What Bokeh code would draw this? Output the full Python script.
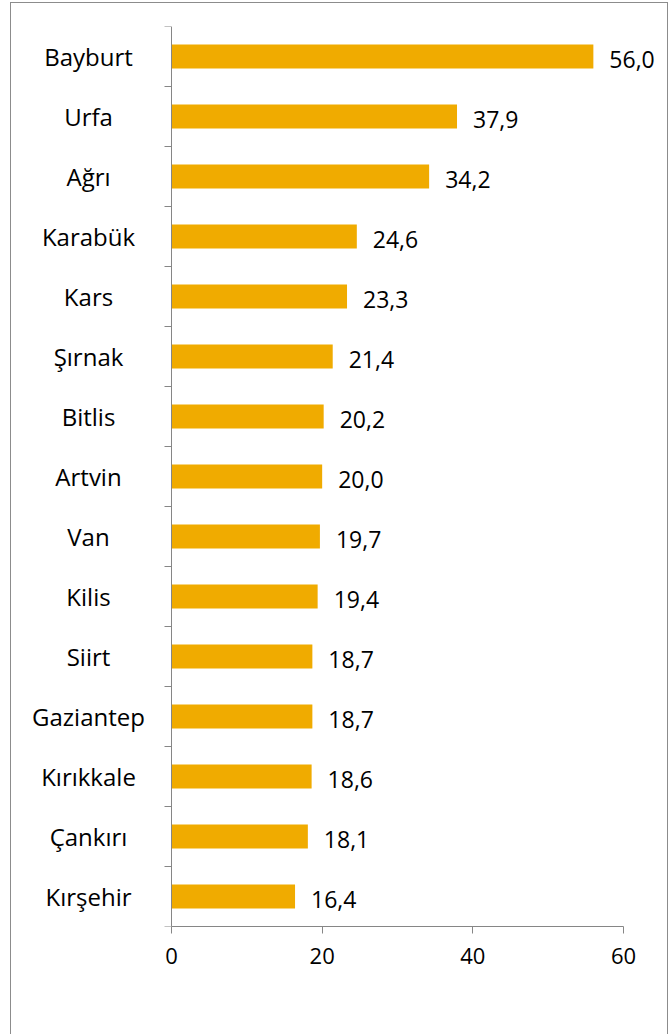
from bokeh.plotting import figure
from bokeh.models import Range1d, FixedTicker, ColumnDataSource, LabelSet
from bokeh.core.properties import value
from bokeh.embed import file_html
from bokeh.resources import INLINE

provinces = ["Bayburt", "Urfa", "Ağrı", "Karabük", "Kars", "Şırnak", "Bitlis", "Artvin",
             "Van", "Kilis", "Siirt", "Gaziantep", "Kırıkkale", "Çankırı", "Kırşehir"]
rates = [56.0, 37.9, 34.2, 24.6, 23.3, 21.4, 20.2, 20.0, 19.7, 19.4, 18.7, 18.7, 18.6, 18.1, 16.4]
x_ticks = [0, 20, 40, 60]

FONT = "Open Sans"
BAR = "#F0AB00"
AXIS = "#868686"

# layout in pixels (page coordinates)
FIG_LEFT, FRAME_LEFT, ZERO_X, SIXTY_X, FRAME_RIGHT = 11, 20, 171, 623, 660
PX_PER_UNIT = (SIXTY_X - ZERO_X) / 60
CAT_CENTER_X = 88

n = len(provinces)
centers = [i + 0.5 for i in range(n)]
labels = [f"{v:.1f}".replace(".", ",") for v in rates]
src = ColumnDataSource(dict(y=centers, v=rates, lab=labels, name=provinces, zero=[0] * n))

p = figure(width=656, height=1031, output_backend="svg", toolbar_location=None,
           x_range=Range1d(-(ZERO_X - FRAME_LEFT) / PX_PER_UNIT, (FRAME_RIGHT - ZERO_X) / PX_PER_UNIT),
           y_range=Range1d(n, 0),
           min_border_left=FRAME_LEFT - FIG_LEFT, min_border_right=7,
           min_border_top=23, min_border_bottom=108,
           margin=(3, 0, 0, FIG_LEFT))
p.styles = {"outline": "1px solid #8c8c8c"}
p.outline_line_color = None
p.xgrid.visible = False
p.ygrid.visible = False

p.hbar(y="y", right="v", left=0, height=0.4, source=src, fill_color=BAR, line_color=None)
p.text(x="v", y="y", text="lab", source=src, x_offset=16, y_offset=3,
       text_font=value(FONT), text_font_size="23px", text_baseline="middle",
       text_align="left", text_color="black")

cats = LabelSet(x="zero", y="y", text="name", source=src, x_offset=CAT_CENTER_X - ZERO_X, y_offset=0,
                text_font=value(FONT), text_font_size="24px", text_baseline="middle",
                text_align="center", text_color="black")
p.add_layout(cats)

xa = p.xaxis[0]
xa.ticker = FixedTicker(ticks=x_ticks)
xa.bounds = (0, 60)
xa.axis_line_color = AXIS
xa.major_tick_line_color = AXIS
xa.major_tick_out = 7
xa.major_tick_in = 0
xa.minor_tick_line_color = None
xa.major_label_text_font = FONT
xa.major_label_text_font_size = "22px"
xa.major_label_text_color = "black"
xa.major_label_standoff = 14

ya = p.yaxis[0]
ya.fixed_location = 0
ya.ticker = FixedTicker(ticks=[], minor_ticks=list(range(n + 1)))
ya.axis_line_color = AXIS
ya.major_tick_line_color = None
ya.minor_tick_line_color = AXIS
ya.minor_tick_out = 7
ya.minor_tick_in = 0
ya.major_label_text_color = None

open("out.html", "w").write(file_html(p, INLINE))
